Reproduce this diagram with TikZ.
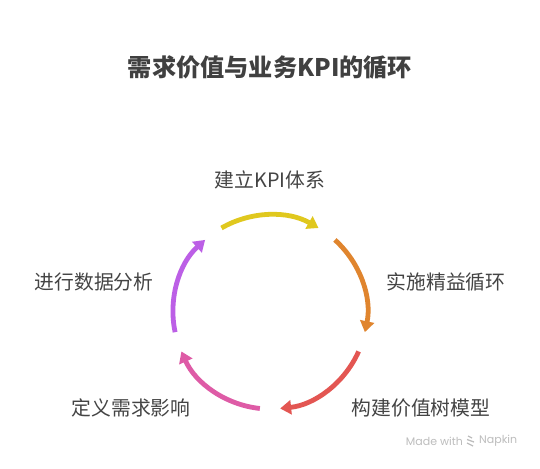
\documentclass[tikz,border=0pt]{standalone}
\usepackage{fontspec}
\setmainfont{Noto Sans CJK SC}
\newfontfamily\wmfont{Poppins}
\usetikzlibrary{arrows.meta,calc}
\definecolor{cyellow}{HTML}{E0C81E}
\definecolor{corange}{HTML}{E0852E}
\definecolor{cred}{HTML}{E35652}
\definecolor{cpink}{HTML}{DE5BA6}
\definecolor{cpurple}{HTML}{BC5FE6}
\definecolor{ctext}{HTML}{444444}
\definecolor{ctitle}{HTML}{404040}
\definecolor{cwm}{HTML}{BDBDBD}
\tikzset{
  cyclearc/.style={line width=4.8pt, -{Triangle[width=14pt,length=11pt]}},
  lbl/.style={text=ctext, font=\fontsize{19.8}{23}\selectfont, inner sep=0pt},
}
\begin{document}
\begin{tikzpicture}[x=1pt,y=1pt]
\useasboundingbox (0,0) rectangle (540,468);
\fill[white] (0,0) rectangle (540,468);
\coordinate (c) at (270,156);
\node[text=ctitle, font=\fontsize{24.2}{28}\selectfont\bfseries, inner sep=0pt] (title) at (270,401) {需求价值与业务KPI的循环};
\node[lbl] (l1) at (270,288) {建立KPI体系};
\node[lbl] (l2) at (446,186) {实施精益循环};
\node[lbl] (l3) at (421,60) {构建价值树模型};
\node[lbl] (l4) at (131,60) {定义需求影响};
\node[lbl] (l5) at (94,186) {进行数据分析};
\draw[cyclearc, cyellow] ([shift=(120:97)]c) arc[start angle=120, end angle=60, radius=97];
\draw[cyclearc, corange] ([shift=(48:97)]c) arc[start angle=48, end angle=-12, radius=97];
\draw[cyclearc, cred] ([shift=(-24:97)]c) arc[start angle=-24, end angle=-84, radius=97];
\draw[cyclearc, cpink] ([shift=(-96:97)]c) arc[start angle=-96, end angle=-156, radius=97];
\draw[cyclearc, cpurple] ([shift=(-168:97)]c) arc[start angle=-168, end angle=-228, radius=97];
\node[text=cwm, font=\wmfont\fontsize{11}{12}\selectfont, inner sep=0pt, anchor=east] (wm1) at (463,27) {Made with};
\node[text=cwm, font=\wmfont\fontsize{11}{12}\selectfont, inner sep=0pt, anchor=west] (wm2) at (479,27) {Napkin};
\coordinate (ic) at (471,27);
\draw[cwm, line width=1.3pt] ($(ic)+(-3,5)$) -- ($(ic)+(1,3)$) ($(ic)+(-4,1.5)$) -- ($(ic)+(3,-1)$) ($(ic)+(-4,-2)$) -- ($(ic)+(2,-5)$);
\end{tikzpicture}
\end{document}
